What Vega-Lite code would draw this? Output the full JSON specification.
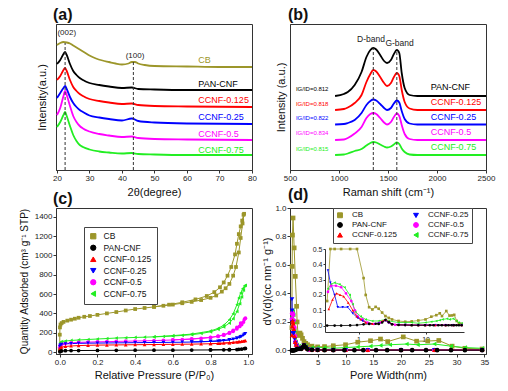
{
"$schema":"https://vega.github.io/schema/vega-lite/v6.json",
"background":"white",
"padding":{"left":18,"top":6,"right":8,"bottom":4},
"config":{
 "font":"Liberation Sans",
 "view":{"stroke":"#333","strokeWidth":1},
 "axis":{"grid":false,"labelFontSize":8,"titleFontSize":11,"titleFontWeight":"normal","domainColor":"#333","tickColor":"#333","labelColor":"#222","titleColor":"#111","tickSize":3,"labelPadding":1,"labelFlush":false,"labelOverlap":false},
 "legend":{"symbolSize":28,"rowPadding":1,"symbolStrokeWidth":1},
 "title":{"fontSize":16,"fontWeight":"bold","anchor":"start","offset":1,"color":"#111","frame":"group"}
},
"columns":2,
"spacing":38,
"bounds":"flush",
"resolve":{"scale":{"color":"independent","shape":"independent"},"legend":{"color":"independent","shape":"independent"}},
"datasets":{
"xrd":[
{"s":"CB","t":20,"v":125},{"s":"CB","t":21,"v":127},{"s":"CB","t":22,"v":128},{"s":"CB","t":23,"v":127.5},{"s":"CB","t":24,"v":126.5},{"s":"CB","t":25,"v":124.5},{"s":"CB","t":26,"v":122.5},{"s":"CB","t":27,"v":120.5},{"s":"CB","t":28,"v":118.5},{"s":"CB","t":29,"v":116.5},{"s":"CB","t":30,"v":114.5},{"s":"CB","t":32,"v":111.5},{"s":"CB","t":34,"v":109.5},{"s":"CB","t":36,"v":108},{"s":"CB","t":38,"v":106.5},{"s":"CB","t":40,"v":105.5},{"s":"CB","t":42,"v":106.5},{"s":"CB","t":43,"v":108},{"s":"CB","t":44,"v":108},{"s":"CB","t":45,"v":106.5},{"s":"CB","t":47,"v":105},{"s":"CB","t":50,"v":104},{"s":"CB","t":60,"v":103.5},{"s":"CB","t":70,"v":103},{"s":"CB","t":80,"v":103},
{"s":"PAN-CNF","t":20,"v":106},{"s":"PAN-CNF","t":21,"v":110},{"s":"PAN-CNF","t":22,"v":116},{"s":"PAN-CNF","t":22.5,"v":118},{"s":"PAN-CNF","t":23,"v":115},{"s":"PAN-CNF","t":24,"v":106},{"s":"PAN-CNF","t":25,"v":99},{"s":"PAN-CNF","t":26,"v":95},{"s":"PAN-CNF","t":27,"v":92},{"s":"PAN-CNF","t":28,"v":90},{"s":"PAN-CNF","t":30,"v":87},{"s":"PAN-CNF","t":33,"v":85},{"s":"PAN-CNF","t":36,"v":83.5},{"s":"PAN-CNF","t":40,"v":82},{"s":"PAN-CNF","t":43,"v":82.5},{"s":"PAN-CNF","t":45,"v":81},{"s":"PAN-CNF","t":50,"v":80.5},{"s":"PAN-CNF","t":60,"v":80},{"s":"PAN-CNF","t":80,"v":80},
{"s":"CCNF-0.125","t":20,"v":90},{"s":"CCNF-0.125","t":21,"v":94},{"s":"CCNF-0.125","t":22,"v":100},{"s":"CCNF-0.125","t":22.5,"v":102},{"s":"CCNF-0.125","t":23,"v":99},{"s":"CCNF-0.125","t":24,"v":90},{"s":"CCNF-0.125","t":25,"v":83},{"s":"CCNF-0.125","t":26,"v":79},{"s":"CCNF-0.125","t":27,"v":76},{"s":"CCNF-0.125","t":28,"v":74},{"s":"CCNF-0.125","t":30,"v":71},{"s":"CCNF-0.125","t":33,"v":69},{"s":"CCNF-0.125","t":36,"v":67.5},{"s":"CCNF-0.125","t":40,"v":66},{"s":"CCNF-0.125","t":43,"v":66.5},{"s":"CCNF-0.125","t":45,"v":65},{"s":"CCNF-0.125","t":50,"v":64},{"s":"CCNF-0.125","t":60,"v":63.5},{"s":"CCNF-0.125","t":80,"v":63},
{"s":"CCNF-0.25","t":20,"v":72},{"s":"CCNF-0.25","t":21,"v":77},{"s":"CCNF-0.25","t":22,"v":82},{"s":"CCNF-0.25","t":22.5,"v":84},{"s":"CCNF-0.25","t":23,"v":81},{"s":"CCNF-0.25","t":24,"v":73},{"s":"CCNF-0.25","t":25,"v":67},{"s":"CCNF-0.25","t":26,"v":63},{"s":"CCNF-0.25","t":27,"v":60},{"s":"CCNF-0.25","t":28,"v":58},{"s":"CCNF-0.25","t":30,"v":54.5},{"s":"CCNF-0.25","t":33,"v":52.5},{"s":"CCNF-0.25","t":36,"v":51},{"s":"CCNF-0.25","t":40,"v":49.5},{"s":"CCNF-0.25","t":43,"v":51.5},{"s":"CCNF-0.25","t":45,"v":49},{"s":"CCNF-0.25","t":50,"v":47.5},{"s":"CCNF-0.25","t":60,"v":46.5},{"s":"CCNF-0.25","t":80,"v":46},
{"s":"CCNF-0.5","t":20,"v":55},{"s":"CCNF-0.5","t":21,"v":62},{"s":"CCNF-0.5","t":22,"v":74},{"s":"CCNF-0.5","t":22.5,"v":79},{"s":"CCNF-0.5","t":23,"v":75},{"s":"CCNF-0.5","t":24,"v":64},{"s":"CCNF-0.5","t":25,"v":54},{"s":"CCNF-0.5","t":26,"v":48},{"s":"CCNF-0.5","t":27,"v":44},{"s":"CCNF-0.5","t":28,"v":41.5},{"s":"CCNF-0.5","t":30,"v":38.5},{"s":"CCNF-0.5","t":33,"v":36},{"s":"CCNF-0.5","t":36,"v":34.5},{"s":"CCNF-0.5","t":40,"v":33},{"s":"CCNF-0.5","t":43,"v":33.5},{"s":"CCNF-0.5","t":45,"v":32},{"s":"CCNF-0.5","t":50,"v":31},{"s":"CCNF-0.5","t":60,"v":30.5},{"s":"CCNF-0.5","t":80,"v":30},
{"s":"CCNF-0.75","t":20,"v":43},{"s":"CCNF-0.75","t":21,"v":48},{"s":"CCNF-0.75","t":22,"v":55},{"s":"CCNF-0.75","t":22.5,"v":58},{"s":"CCNF-0.75","t":23,"v":54},{"s":"CCNF-0.75","t":24,"v":44},{"s":"CCNF-0.75","t":25,"v":35},{"s":"CCNF-0.75","t":26,"v":29},{"s":"CCNF-0.75","t":27,"v":25},{"s":"CCNF-0.75","t":28,"v":23},{"s":"CCNF-0.75","t":30,"v":20.5},{"s":"CCNF-0.75","t":33,"v":18.5},{"s":"CCNF-0.75","t":36,"v":17.5},{"s":"CCNF-0.75","t":40,"v":16.5},{"s":"CCNF-0.75","t":43,"v":17},{"s":"CCNF-0.75","t":45,"v":16},{"s":"CCNF-0.75","t":50,"v":15.5},{"s":"CCNF-0.75","t":60,"v":15},{"s":"CCNF-0.75","t":80,"v":15}
],
"raman":[
{"s":"PAN-CNF","r":960,"v":74},{"s":"PAN-CNF","r":1050,"v":76},{"s":"PAN-CNF","r":1090,"v":78},{"s":"PAN-CNF","r":1160,"v":85},{"s":"PAN-CNF","r":1230,"v":98},{"s":"PAN-CNF","r":1280,"v":113},{"s":"PAN-CNF","r":1320,"v":120},{"s":"PAN-CNF","r":1350,"v":122},{"s":"PAN-CNF","r":1380,"v":120.5},{"s":"PAN-CNF","r":1420,"v":115},{"s":"PAN-CNF","r":1460,"v":109},{"s":"PAN-CNF","r":1490,"v":107},{"s":"PAN-CNF","r":1530,"v":110},{"s":"PAN-CNF","r":1560,"v":116},{"s":"PAN-CNF","r":1590,"v":120},{"s":"PAN-CNF","r":1615,"v":117},{"s":"PAN-CNF","r":1640,"v":97},{"s":"PAN-CNF","r":1670,"v":82},{"s":"PAN-CNF","r":1720,"v":75},{"s":"PAN-CNF","r":1800,"v":74},{"s":"PAN-CNF","r":2500,"v":74},
{"s":"CCNF-0.125","r":960,"v":60},{"s":"CCNF-0.125","r":1050,"v":61},{"s":"CCNF-0.125","r":1090,"v":62.5},{"s":"CCNF-0.125","r":1160,"v":67},{"s":"CCNF-0.125","r":1230,"v":75},{"s":"CCNF-0.125","r":1280,"v":88},{"s":"CCNF-0.125","r":1320,"v":96},{"s":"CCNF-0.125","r":1350,"v":100},{"s":"CCNF-0.125","r":1380,"v":98.5},{"s":"CCNF-0.125","r":1420,"v":93},{"s":"CCNF-0.125","r":1460,"v":87},{"s":"CCNF-0.125","r":1490,"v":84},{"s":"CCNF-0.125","r":1530,"v":87},{"s":"CCNF-0.125","r":1560,"v":93},{"s":"CCNF-0.125","r":1590,"v":97},{"s":"CCNF-0.125","r":1615,"v":94},{"s":"CCNF-0.125","r":1640,"v":80},{"s":"CCNF-0.125","r":1670,"v":68},{"s":"CCNF-0.125","r":1720,"v":61.5},{"s":"CCNF-0.125","r":1800,"v":60},{"s":"CCNF-0.125","r":2500,"v":60},
{"s":"CCNF-0.25","r":960,"v":45.5},{"s":"CCNF-0.25","r":1050,"v":46},{"s":"CCNF-0.25","r":1090,"v":47},{"s":"CCNF-0.25","r":1160,"v":50},{"s":"CCNF-0.25","r":1230,"v":57},{"s":"CCNF-0.25","r":1280,"v":65},{"s":"CCNF-0.25","r":1320,"v":69},{"s":"CCNF-0.25","r":1350,"v":70.5},{"s":"CCNF-0.25","r":1380,"v":69.5},{"s":"CCNF-0.25","r":1420,"v":66},{"s":"CCNF-0.25","r":1460,"v":62},{"s":"CCNF-0.25","r":1490,"v":60},{"s":"CCNF-0.25","r":1530,"v":62},{"s":"CCNF-0.25","r":1560,"v":66.5},{"s":"CCNF-0.25","r":1590,"v":69.5},{"s":"CCNF-0.25","r":1615,"v":67.5},{"s":"CCNF-0.25","r":1640,"v":59},{"s":"CCNF-0.25","r":1670,"v":51},{"s":"CCNF-0.25","r":1720,"v":46.5},{"s":"CCNF-0.25","r":1800,"v":45.5},{"s":"CCNF-0.25","r":2500,"v":45.5},
{"s":"CCNF-0.5","r":960,"v":30},{"s":"CCNF-0.5","r":1050,"v":30.5},{"s":"CCNF-0.5","r":1090,"v":32},{"s":"CCNF-0.5","r":1160,"v":36.5},{"s":"CCNF-0.5","r":1230,"v":43},{"s":"CCNF-0.5","r":1280,"v":52},{"s":"CCNF-0.5","r":1320,"v":56},{"s":"CCNF-0.5","r":1350,"v":57},{"s":"CCNF-0.5","r":1380,"v":56},{"s":"CCNF-0.5","r":1420,"v":52},{"s":"CCNF-0.5","r":1460,"v":47.5},{"s":"CCNF-0.5","r":1490,"v":45.5},{"s":"CCNF-0.5","r":1530,"v":48},{"s":"CCNF-0.5","r":1560,"v":53},{"s":"CCNF-0.5","r":1590,"v":56.5},{"s":"CCNF-0.5","r":1615,"v":54},{"s":"CCNF-0.5","r":1640,"v":45},{"s":"CCNF-0.5","r":1670,"v":36},{"s":"CCNF-0.5","r":1720,"v":31},{"s":"CCNF-0.5","r":1800,"v":30},{"s":"CCNF-0.5","r":2500,"v":30},
{"s":"CCNF-0.75","r":960,"v":15},{"s":"CCNF-0.75","r":1050,"v":15.5},{"s":"CCNF-0.75","r":1090,"v":16.5},{"s":"CCNF-0.75","r":1160,"v":19},{"s":"CCNF-0.75","r":1230,"v":21},{"s":"CCNF-0.75","r":1280,"v":24.5},{"s":"CCNF-0.75","r":1320,"v":27},{"s":"CCNF-0.75","r":1350,"v":28},{"s":"CCNF-0.75","r":1380,"v":27.5},{"s":"CCNF-0.75","r":1420,"v":25.5},{"s":"CCNF-0.75","r":1460,"v":23.5},{"s":"CCNF-0.75","r":1490,"v":22.5},{"s":"CCNF-0.75","r":1530,"v":23.5},{"s":"CCNF-0.75","r":1560,"v":25.5},{"s":"CCNF-0.75","r":1590,"v":27.5},{"s":"CCNF-0.75","r":1615,"v":26},{"s":"CCNF-0.75","r":1640,"v":21.5},{"s":"CCNF-0.75","r":1670,"v":18},{"s":"CCNF-0.75","r":1720,"v":15.5},{"s":"CCNF-0.75","r":1800,"v":15},{"s":"CCNF-0.75","r":2500,"v":15}
],
"bet":[
{"s":"CB","b":"a","p":0.00005,"q":30},{"s":"CB","b":"a","p":0.0002,"q":180},{"s":"CB","b":"a","p":0.001,"q":255},{"s":"CB","b":"a","p":0.004,"q":285},{"s":"CB","b":"a","p":0.01,"q":300},{"s":"CB","b":"a","p":0.02,"q":312},{"s":"CB","b":"a","p":0.04,"q":325},{"s":"CB","b":"a","p":0.06,"q":335},{"s":"CB","b":"a","p":0.08,"q":345},{"s":"CB","b":"a","p":0.1,"q":355},{"s":"CB","b":"a","p":0.13,"q":365},{"s":"CB","b":"a","p":0.16,"q":373},{"s":"CB","b":"a","p":0.2,"q":385},{"s":"CB","b":"a","p":0.25,"q":400},{"s":"CB","b":"a","p":0.3,"q":414},{"s":"CB","b":"a","p":0.35,"q":430},{"s":"CB","b":"a","p":0.4,"q":445},{"s":"CB","b":"a","p":0.45,"q":456},{"s":"CB","b":"a","p":0.5,"q":467},{"s":"CB","b":"a","p":0.55,"q":479},{"s":"CB","b":"a","p":0.6,"q":491},{"s":"CB","b":"a","p":0.65,"q":505},{"s":"CB","b":"a","p":0.7,"q":519},{"s":"CB","b":"a","p":0.75,"q":538},{"s":"CB","b":"a","p":0.8,"q":561},{"s":"CB","b":"a","p":0.83,"q":585},{"s":"CB","b":"a","p":0.86,"q":625},{"s":"CB","b":"a","p":0.88,"q":660},{"s":"CB","b":"a","p":0.9,"q":705},{"s":"CB","b":"a","p":0.92,"q":790},{"s":"CB","b":"a","p":0.935,"q":880},{"s":"CB","b":"a","p":0.95,"q":1030},{"s":"CB","b":"a","p":0.96,"q":1180},{"s":"CB","b":"a","p":0.97,"q":1330},{"s":"CB","b":"a","p":0.978,"q":1430},
{"s":"CB","b":"d","p":0.975,"q":1420},{"s":"CB","b":"d","p":0.968,"q":1360},{"s":"CB","b":"d","p":0.96,"q":1300},{"s":"CB","b":"d","p":0.95,"q":1220},{"s":"CB","b":"d","p":0.94,"q":1120},{"s":"CB","b":"d","p":0.93,"q":1010},{"s":"CB","b":"d","p":0.91,"q":880},{"s":"CB","b":"d","p":0.89,"q":790},{"s":"CB","b":"d","p":0.87,"q":720},{"s":"CB","b":"d","p":0.85,"q":670},{"s":"CB","b":"d","p":0.82,"q":620},{"s":"CB","b":"d","p":0.78,"q":580},{"s":"CB","b":"d","p":0.72,"q":545},{"s":"CB","b":"d","p":0.65,"q":515},{"s":"CB","b":"d","p":0.58,"q":490},{"s":"CB","b":"d","p":0.5,"q":469},
{"s":"CCNF-0.75","b":"a","p":0.0005,"q":70},{"s":"CCNF-0.75","b":"a","p":0.003,"q":100},{"s":"CCNF-0.75","b":"a","p":0.01,"q":108},{"s":"CCNF-0.75","b":"a","p":0.03,"q":114},{"s":"CCNF-0.75","b":"a","p":0.06,"q":120},{"s":"CCNF-0.75","b":"a","p":0.1,"q":125},{"s":"CCNF-0.75","b":"a","p":0.15,"q":130},{"s":"CCNF-0.75","b":"a","p":0.2,"q":135},{"s":"CCNF-0.75","b":"a","p":0.25,"q":140},{"s":"CCNF-0.75","b":"a","p":0.3,"q":145},{"s":"CCNF-0.75","b":"a","p":0.35,"q":148},{"s":"CCNF-0.75","b":"a","p":0.4,"q":151},{"s":"CCNF-0.75","b":"a","p":0.45,"q":154},{"s":"CCNF-0.75","b":"a","p":0.5,"q":157},{"s":"CCNF-0.75","b":"a","p":0.55,"q":161},{"s":"CCNF-0.75","b":"a","p":0.6,"q":166},{"s":"CCNF-0.75","b":"a","p":0.65,"q":172},{"s":"CCNF-0.75","b":"a","p":0.7,"q":180},{"s":"CCNF-0.75","b":"a","p":0.75,"q":192},{"s":"CCNF-0.75","b":"a","p":0.8,"q":210},{"s":"CCNF-0.75","b":"a","p":0.84,"q":235},{"s":"CCNF-0.75","b":"a","p":0.87,"q":260},{"s":"CCNF-0.75","b":"a","p":0.9,"q":300},{"s":"CCNF-0.75","b":"a","p":0.92,"q":345},{"s":"CCNF-0.75","b":"a","p":0.94,"q":420},{"s":"CCNF-0.75","b":"a","p":0.955,"q":500},{"s":"CCNF-0.75","b":"a","p":0.965,"q":570},{"s":"CCNF-0.75","b":"a","p":0.975,"q":640},{"s":"CCNF-0.75","b":"a","p":0.985,"q":690},
{"s":"CCNF-0.75","b":"d","p":0.98,"q":685},{"s":"CCNF-0.75","b":"d","p":0.97,"q":655},{"s":"CCNF-0.75","b":"d","p":0.96,"q":610},{"s":"CCNF-0.75","b":"d","p":0.95,"q":560},{"s":"CCNF-0.75","b":"d","p":0.94,"q":490},{"s":"CCNF-0.75","b":"d","p":0.92,"q":395},{"s":"CCNF-0.75","b":"d","p":0.9,"q":335},{"s":"CCNF-0.75","b":"d","p":0.87,"q":278},{"s":"CCNF-0.75","b":"d","p":0.84,"q":245},{"s":"CCNF-0.75","b":"d","p":0.8,"q":218},{"s":"CCNF-0.75","b":"d","p":0.7,"q":186},{"s":"CCNF-0.75","b":"d","p":0.6,"q":170},{"s":"CCNF-0.75","b":"d","p":0.5,"q":158},
{"s":"CCNF-0.5","b":"a","p":0.0005,"q":50},{"s":"CCNF-0.5","b":"a","p":0.003,"q":70},{"s":"CCNF-0.5","b":"a","p":0.01,"q":80},{"s":"CCNF-0.5","b":"a","p":0.03,"q":88},{"s":"CCNF-0.5","b":"a","p":0.06,"q":95},{"s":"CCNF-0.5","b":"a","p":0.1,"q":100},{"s":"CCNF-0.5","b":"a","p":0.15,"q":103},{"s":"CCNF-0.5","b":"a","p":0.2,"q":106},{"s":"CCNF-0.5","b":"a","p":0.25,"q":108},{"s":"CCNF-0.5","b":"a","p":0.3,"q":110},{"s":"CCNF-0.5","b":"a","p":0.35,"q":112},{"s":"CCNF-0.5","b":"a","p":0.4,"q":114},{"s":"CCNF-0.5","b":"a","p":0.45,"q":116},{"s":"CCNF-0.5","b":"a","p":0.5,"q":119},{"s":"CCNF-0.5","b":"a","p":0.55,"q":122},{"s":"CCNF-0.5","b":"a","p":0.6,"q":125},{"s":"CCNF-0.5","b":"a","p":0.65,"q":129},{"s":"CCNF-0.5","b":"a","p":0.7,"q":134},{"s":"CCNF-0.5","b":"a","p":0.75,"q":141},{"s":"CCNF-0.5","b":"a","p":0.8,"q":150},{"s":"CCNF-0.5","b":"a","p":0.84,"q":162},{"s":"CCNF-0.5","b":"a","p":0.87,"q":175},{"s":"CCNF-0.5","b":"a","p":0.9,"q":195},{"s":"CCNF-0.5","b":"a","p":0.92,"q":215},{"s":"CCNF-0.5","b":"a","p":0.94,"q":240},{"s":"CCNF-0.5","b":"a","p":0.955,"q":265},{"s":"CCNF-0.5","b":"a","p":0.965,"q":285},{"s":"CCNF-0.5","b":"a","p":0.975,"q":310},{"s":"CCNF-0.5","b":"a","p":0.985,"q":350},
{"s":"CCNF-0.5","b":"d","p":0.98,"q":340},{"s":"CCNF-0.5","b":"d","p":0.96,"q":300},{"s":"CCNF-0.5","b":"d","p":0.94,"q":255},{"s":"CCNF-0.5","b":"d","p":0.92,"q":225},{"s":"CCNF-0.5","b":"d","p":0.9,"q":200},{"s":"CCNF-0.5","b":"d","p":0.87,"q":180},{"s":"CCNF-0.5","b":"d","p":0.84,"q":165},{"s":"CCNF-0.5","b":"d","p":0.8,"q":153},{"s":"CCNF-0.5","b":"d","p":0.7,"q":136},{"s":"CCNF-0.5","b":"d","p":0.6,"q":126},
{"s":"CCNF-0.25","b":"a","p":0.0005,"q":60},{"s":"CCNF-0.25","b":"a","p":0.003,"q":75},{"s":"CCNF-0.25","b":"a","p":0.01,"q":80},{"s":"CCNF-0.25","b":"a","p":0.03,"q":85},{"s":"CCNF-0.25","b":"a","p":0.06,"q":88},{"s":"CCNF-0.25","b":"a","p":0.1,"q":90},{"s":"CCNF-0.25","b":"a","p":0.15,"q":92},{"s":"CCNF-0.25","b":"a","p":0.2,"q":93},{"s":"CCNF-0.25","b":"a","p":0.25,"q":94},{"s":"CCNF-0.25","b":"a","p":0.3,"q":95},{"s":"CCNF-0.25","b":"a","p":0.35,"q":96},{"s":"CCNF-0.25","b":"a","p":0.4,"q":97},{"s":"CCNF-0.25","b":"a","p":0.45,"q":98},{"s":"CCNF-0.25","b":"a","p":0.5,"q":99},{"s":"CCNF-0.25","b":"a","p":0.55,"q":100},{"s":"CCNF-0.25","b":"a","p":0.6,"q":101},{"s":"CCNF-0.25","b":"a","p":0.65,"q":102},{"s":"CCNF-0.25","b":"a","p":0.7,"q":104},{"s":"CCNF-0.25","b":"a","p":0.75,"q":106},{"s":"CCNF-0.25","b":"a","p":0.8,"q":110},{"s":"CCNF-0.25","b":"a","p":0.84,"q":114},{"s":"CCNF-0.25","b":"a","p":0.87,"q":119},{"s":"CCNF-0.25","b":"a","p":0.9,"q":126},{"s":"CCNF-0.25","b":"a","p":0.92,"q":133},{"s":"CCNF-0.25","b":"a","p":0.94,"q":143},{"s":"CCNF-0.25","b":"a","p":0.955,"q":152},{"s":"CCNF-0.25","b":"a","p":0.965,"q":162},{"s":"CCNF-0.25","b":"a","p":0.975,"q":175},{"s":"CCNF-0.25","b":"a","p":0.985,"q":190},
{"s":"CCNF-0.25","b":"d","p":0.98,"q":185},{"s":"CCNF-0.25","b":"d","p":0.96,"q":160},{"s":"CCNF-0.25","b":"d","p":0.94,"q":145},{"s":"CCNF-0.25","b":"d","p":0.9,"q":128},{"s":"CCNF-0.25","b":"d","p":0.85,"q":116},{"s":"CCNF-0.25","b":"d","p":0.8,"q":111},{"s":"CCNF-0.25","b":"d","p":0.7,"q":105},
{"s":"CCNF-0.125","b":"a","p":0.0005,"q":30},{"s":"CCNF-0.125","b":"a","p":0.003,"q":45},{"s":"CCNF-0.125","b":"a","p":0.01,"q":52},{"s":"CCNF-0.125","b":"a","p":0.03,"q":58},{"s":"CCNF-0.125","b":"a","p":0.06,"q":63},{"s":"CCNF-0.125","b":"a","p":0.1,"q":67},{"s":"CCNF-0.125","b":"a","p":0.15,"q":70},{"s":"CCNF-0.125","b":"a","p":0.2,"q":72},{"s":"CCNF-0.125","b":"a","p":0.25,"q":73},{"s":"CCNF-0.125","b":"a","p":0.3,"q":74},{"s":"CCNF-0.125","b":"a","p":0.35,"q":75},{"s":"CCNF-0.125","b":"a","p":0.4,"q":76},{"s":"CCNF-0.125","b":"a","p":0.45,"q":77},{"s":"CCNF-0.125","b":"a","p":0.5,"q":78},{"s":"CCNF-0.125","b":"a","p":0.55,"q":79},{"s":"CCNF-0.125","b":"a","p":0.6,"q":80},{"s":"CCNF-0.125","b":"a","p":0.65,"q":81},{"s":"CCNF-0.125","b":"a","p":0.7,"q":82},{"s":"CCNF-0.125","b":"a","p":0.75,"q":84},{"s":"CCNF-0.125","b":"a","p":0.8,"q":86},{"s":"CCNF-0.125","b":"a","p":0.84,"q":89},{"s":"CCNF-0.125","b":"a","p":0.87,"q":92},{"s":"CCNF-0.125","b":"a","p":0.9,"q":96},{"s":"CCNF-0.125","b":"a","p":0.92,"q":100},{"s":"CCNF-0.125","b":"a","p":0.94,"q":104},{"s":"CCNF-0.125","b":"a","p":0.955,"q":108},{"s":"CCNF-0.125","b":"a","p":0.965,"q":111},{"s":"CCNF-0.125","b":"a","p":0.975,"q":114},{"s":"CCNF-0.125","b":"a","p":0.985,"q":118},
{"s":"CCNF-0.125","b":"d","p":0.98,"q":117},{"s":"CCNF-0.125","b":"d","p":0.95,"q":107},{"s":"CCNF-0.125","b":"d","p":0.9,"q":97},{"s":"CCNF-0.125","b":"d","p":0.85,"q":90},{"s":"CCNF-0.125","b":"d","p":0.8,"q":87},
{"s":"PAN-CNF","b":"a","p":0.0005,"q":2},{"s":"PAN-CNF","b":"a","p":0.003,"q":8},{"s":"PAN-CNF","b":"a","p":0.01,"q":12},{"s":"PAN-CNF","b":"a","p":0.03,"q":14},{"s":"PAN-CNF","b":"a","p":0.06,"q":15},{"s":"PAN-CNF","b":"a","p":0.1,"q":16},{"s":"PAN-CNF","b":"a","p":0.2,"q":17},{"s":"PAN-CNF","b":"a","p":0.3,"q":18},{"s":"PAN-CNF","b":"a","p":0.4,"q":19},{"s":"PAN-CNF","b":"a","p":0.5,"q":20},{"s":"PAN-CNF","b":"a","p":0.6,"q":20},{"s":"PAN-CNF","b":"a","p":0.7,"q":21},{"s":"PAN-CNF","b":"a","p":0.8,"q":22},{"s":"PAN-CNF","b":"a","p":0.87,"q":23},{"s":"PAN-CNF","b":"a","p":0.9,"q":24},{"s":"PAN-CNF","b":"a","p":0.94,"q":26},{"s":"PAN-CNF","b":"a","p":0.965,"q":30},{"s":"PAN-CNF","b":"a","p":0.985,"q":38},
{"s":"PAN-CNF","b":"d","p":0.98,"q":36},{"s":"PAN-CNF","b":"d","p":0.95,"q":28},{"s":"PAN-CNF","b":"d","p":0.9,"q":25},{"s":"PAN-CNF","b":"d","p":0.8,"q":23}
],
"psd":[
{"s":"CB","w":0.34,"d":0.16},{"s":"CB","w":0.38,"d":0.59},{"s":"CB","w":0.44,"d":0.81},{"s":"CB","w":0.55,"d":0.93},{"s":"CB","w":0.75,"d":0.72},{"s":"CB","w":0.95,"d":0.52},{"s":"CB","w":1.19,"d":0.31},{"s":"CB","w":1.28,"d":0.2},{"s":"CB","w":1.44,"d":0.12},{"s":"CB","w":1.61,"d":0.105},{"s":"CB","w":1.8,"d":0.122},{"s":"CB","w":2.0,"d":0.11},{"s":"CB","w":2.25,"d":0.085},{"s":"CB","w":2.52,"d":0.062},{"s":"CB","w":2.83,"d":0.05},{"s":"CB","w":3.16,"d":0.04},{"s":"CB","w":3.96,"d":0.03},{"s":"CB","w":4.97,"d":0.025},{"s":"CB","w":6.22,"d":0.027},{"s":"CB","w":7.8,"d":0.033},{"s":"CB","w":10,"d":0.04},{"s":"CB","w":12.2,"d":0.058},{"s":"CB","w":14.5,"d":0.068},{"s":"CB","w":16.3,"d":0.08},{"s":"CB","w":17.6,"d":0.062},{"s":"CB","w":20.4,"d":0.095},{"s":"CB","w":22.8,"d":0.065},{"s":"CB","w":24.8,"d":0.066},{"s":"CB","w":26.8,"d":0.07},{"s":"CB","w":29.2,"d":0.03},{"s":"CB","w":31.5,"d":0.015},{"s":"CB","w":34.6,"d":0.01},
{"s":"CCNF-0.75","w":0.35,"d":0.24},{"s":"CCNF-0.75","w":0.39,"d":0.27},{"s":"CCNF-0.75","w":0.44,"d":0.28},{"s":"CCNF-0.75","w":0.52,"d":0.27},{"s":"CCNF-0.75","w":0.62,"d":0.25},{"s":"CCNF-0.75","w":0.74,"d":0.2},{"s":"CCNF-0.75","w":0.82,"d":0.14},{"s":"CCNF-0.75","w":0.9,"d":0.09},{"s":"CCNF-0.75","w":1.08,"d":0.06},{"s":"CCNF-0.75","w":1.28,"d":0.04},{"s":"CCNF-0.75","w":1.61,"d":0.03},{"s":"CCNF-0.75","w":2.0,"d":0.03},{"s":"CCNF-0.75","w":2.52,"d":0.04},{"s":"CCNF-0.75","w":2.83,"d":0.03},{"s":"CCNF-0.75","w":3.96,"d":0.02},{"s":"CCNF-0.75","w":4.97,"d":0.02},{"s":"CCNF-0.75","w":6.22,"d":0.02},{"s":"CCNF-0.75","w":7.8,"d":0.015},{"s":"CCNF-0.75","w":10,"d":0.02},{"s":"CCNF-0.75","w":12.2,"d":0.025},{"s":"CCNF-0.75","w":14.5,"d":0.03},{"s":"CCNF-0.75","w":16.3,"d":0.035},{"s":"CCNF-0.75","w":18,"d":0.04},{"s":"CCNF-0.75","w":21,"d":0.045},{"s":"CCNF-0.75","w":23,"d":0.04},{"s":"CCNF-0.75","w":26,"d":0.045},{"s":"CCNF-0.75","w":29,"d":0.03},{"s":"CCNF-0.75","w":31.5,"d":0.02},{"s":"CCNF-0.75","w":34.6,"d":0.015},
{"s":"CCNF-0.5","w":0.35,"d":0.22},{"s":"CCNF-0.5","w":0.39,"d":0.26},{"s":"CCNF-0.5","w":0.46,"d":0.26},{"s":"CCNF-0.5","w":0.55,"d":0.25},{"s":"CCNF-0.5","w":0.65,"d":0.21},{"s":"CCNF-0.5","w":0.78,"d":0.16},{"s":"CCNF-0.5","w":0.88,"d":0.1},{"s":"CCNF-0.5","w":0.97,"d":0.06},{"s":"CCNF-0.5","w":1.15,"d":0.04},{"s":"CCNF-0.5","w":1.36,"d":0.02},{"s":"CCNF-0.5","w":1.7,"d":0.01},{"s":"CCNF-0.5","w":2.1,"d":0.02},{"s":"CCNF-0.5","w":2.52,"d":0.035},{"s":"CCNF-0.5","w":2.83,"d":0.02},{"s":"CCNF-0.5","w":3.5,"d":0.005},{"s":"CCNF-0.5","w":4.97,"d":0.004},{"s":"CCNF-0.5","w":7.8,"d":0.003},{"s":"CCNF-0.5","w":10,"d":0.003},{"s":"CCNF-0.5","w":14,"d":0.003},{"s":"CCNF-0.5","w":20,"d":0.003},{"s":"CCNF-0.5","w":26,"d":0.003},{"s":"CCNF-0.5","w":34.6,"d":0.003},
{"s":"CCNF-0.25","w":0.35,"d":0.36},{"s":"CCNF-0.25","w":0.38,"d":0.28},{"s":"CCNF-0.25","w":0.44,"d":0.2},{"s":"CCNF-0.25","w":0.49,"d":0.12},{"s":"CCNF-0.25","w":0.58,"d":0.12},{"s":"CCNF-0.25","w":0.69,"d":0.12},{"s":"CCNF-0.25","w":0.82,"d":0.08},{"s":"CCNF-0.25","w":0.97,"d":0.05},{"s":"CCNF-0.25","w":1.15,"d":0.03},{"s":"CCNF-0.25","w":1.44,"d":0.01},{"s":"CCNF-0.25","w":2.0,"d":0.015},{"s":"CCNF-0.25","w":2.52,"d":0.035},{"s":"CCNF-0.25","w":2.83,"d":0.02},{"s":"CCNF-0.25","w":3.16,"d":0.008},{"s":"CCNF-0.25","w":3.96,"d":0.005},{"s":"CCNF-0.25","w":4.97,"d":0.004},{"s":"CCNF-0.25","w":7.8,"d":0.003},{"s":"CCNF-0.25","w":10,"d":0.003},{"s":"CCNF-0.25","w":14,"d":0.003},{"s":"CCNF-0.25","w":20,"d":0.003},{"s":"CCNF-0.25","w":26,"d":0.003},{"s":"CCNF-0.25","w":34.6,"d":0.003},
{"s":"CCNF-0.125","w":0.36,"d":0.107},{"s":"CCNF-0.125","w":0.41,"d":0.17},{"s":"CCNF-0.125","w":0.47,"d":0.21},{"s":"CCNF-0.125","w":0.53,"d":0.2},{"s":"CCNF-0.125","w":0.6,"d":0.19},{"s":"CCNF-0.125","w":0.7,"d":0.15},{"s":"CCNF-0.125","w":0.82,"d":0.1},{"s":"CCNF-0.125","w":0.94,"d":0.06},{"s":"CCNF-0.125","w":1.08,"d":0.04},{"s":"CCNF-0.125","w":1.28,"d":0.02},{"s":"CCNF-0.125","w":1.61,"d":0.012},{"s":"CCNF-0.125","w":2.0,"d":0.014},{"s":"CCNF-0.125","w":2.25,"d":0.028},{"s":"CCNF-0.125","w":2.52,"d":0.04},{"s":"CCNF-0.125","w":2.83,"d":0.025},{"s":"CCNF-0.125","w":3.16,"d":0.01},{"s":"CCNF-0.125","w":3.96,"d":0.005},{"s":"CCNF-0.125","w":4.97,"d":0.004},{"s":"CCNF-0.125","w":6.22,"d":0.003},{"s":"CCNF-0.125","w":7.8,"d":0.003},{"s":"CCNF-0.125","w":10,"d":0.003},{"s":"CCNF-0.125","w":14,"d":0.003},{"s":"CCNF-0.125","w":20,"d":0.003},{"s":"CCNF-0.125","w":26,"d":0.003},{"s":"CCNF-0.125","w":34.6,"d":0.003},
{"s":"PAN-CNF","w":0.34,"d":0},{"s":"PAN-CNF","w":0.44,"d":0},{"s":"PAN-CNF","w":0.55,"d":0},{"s":"PAN-CNF","w":0.75,"d":0.001},{"s":"PAN-CNF","w":0.95,"d":0.003},{"s":"PAN-CNF","w":1.19,"d":0.008},{"s":"PAN-CNF","w":1.44,"d":0.011},{"s":"PAN-CNF","w":1.8,"d":0.012},{"s":"PAN-CNF","w":2.0,"d":0.01},{"s":"PAN-CNF","w":2.25,"d":0.02},{"s":"PAN-CNF","w":2.52,"d":0.036},{"s":"PAN-CNF","w":2.83,"d":0.022},{"s":"PAN-CNF","w":3.16,"d":0.008},{"s":"PAN-CNF","w":3.96,"d":0.004},{"s":"PAN-CNF","w":4.97,"d":0.003},{"s":"PAN-CNF","w":6.22,"d":0.002},{"s":"PAN-CNF","w":7.8,"d":0.002},{"s":"PAN-CNF","w":9.8,"d":0.002},{"s":"PAN-CNF","w":11.6,"d":0.002},{"s":"PAN-CNF","w":13.2,"d":0.002},{"s":"PAN-CNF","w":15.5,"d":0.002},{"s":"PAN-CNF","w":17.5,"d":0.002},{"s":"PAN-CNF","w":20,"d":0.002},{"s":"PAN-CNF","w":22,"d":0.002},{"s":"PAN-CNF","w":24.5,"d":0.002},{"s":"PAN-CNF","w":26.5,"d":0.002},{"s":"PAN-CNF","w":29,"d":0.002},{"s":"PAN-CNF","w":31.5,"d":0.002},{"s":"PAN-CNF","w":34.6,"d":0.002}
]
},
"concat":[
{
"width":196,"height":146,
"title":{"text":"(a)","dx":-3},
"layer":[
 {"data":{"name":"xrd"},"mark":{"type":"line","strokeWidth":1.8,"interpolate":"monotone"},
  "encoding":{
   "x":{"field":"t","type":"quantitative","scale":{"domain":[19.7,80],"nice":false},"axis":{"values":[20,30,40,50,60,70,80],"tickCount":20,"format":"d","title":"2θ(degree)","titlePadding":4}},
   "y":{"field":"v","type":"quantitative","scale":{"domain":[0,146],"nice":false},"axis":{"labels":false,"ticks":false,"title":"Intensity(a.u.)","titlePadding":9}},
   "color":{"field":"s","type":"nominal","scale":{"domain":["CB","PAN-CNF","CCNF-0.125","CCNF-0.25","CCNF-0.5","CCNF-0.75"],"range":["#9c962a","#000000","#ff0000","#0000ff","#ff00ff","#22ee22"]},"legend":null}}},
 {"data":{"values":[{"t":22.5,"lo":0,"hi":127},{"t":43.5,"lo":0,"hi":108}]},"mark":{"type":"rule","strokeDash":[3,2],"color":"#333","strokeWidth":1},
  "encoding":{"x":{"field":"t","type":"quantitative"},"y":{"field":"lo","type":"quantitative"},"y2":{"field":"hi"}}},
 {"data":{"values":[{"t":23,"v":137,"txt":"(002)"},{"t":44,"v":114,"txt":"(100)"}]},"mark":{"type":"text","fontSize":8,"color":"#222"},
  "encoding":{"x":{"field":"t","type":"quantitative"},"y":{"field":"v","type":"quantitative"},"text":{"field":"txt"}}},
 {"data":{"values":[{"s":"CB","t":63.5,"v":110},{"s":"PAN-CNF","t":63.5,"v":86},{"s":"CCNF-0.125","t":63.5,"v":70},{"s":"CCNF-0.25","t":63.5,"v":53},{"s":"CCNF-0.5","t":63.5,"v":36},{"s":"CCNF-0.75","t":63.5,"v":20}]},
  "mark":{"type":"text","fontSize":9,"align":"left"},
  "encoding":{"x":{"field":"t","type":"quantitative"},"y":{"field":"v","type":"quantitative"},"text":{"field":"s"},"color":{"field":"s","type":"nominal","legend":null}}}
]
},
{
"width":196,"height":146,
"title":{"text":"(b)","dx":-2},
"layer":[
 {"data":{"name":"raman"},"mark":{"type":"line","strokeWidth":1.8,"interpolate":"monotone"},
  "encoding":{
   "x":{"field":"r","type":"quantitative","scale":{"domain":[500,2500],"nice":false},"axis":{"values":[500,1000,1500,2000,2500],"tickCount":20,"format":"d","title":"Raman shift (cm⁻¹)","titlePadding":4}},
   "y":{"field":"v","type":"quantitative","scale":{"domain":[0,146],"nice":false},"axis":{"labels":false,"ticks":false,"title":"Intensity (a.u.)","titlePadding":4}},
   "color":{"field":"s","type":"nominal","scale":{"domain":["PAN-CNF","CCNF-0.125","CCNF-0.25","CCNF-0.5","CCNF-0.75"],"range":["#000000","#ff0000","#0000ff","#ff00ff","#22ee22"]},"legend":null}}},
 {"data":{"values":[{"r":1350,"lo":0,"hi":122},{"r":1590,"lo":0,"hi":120}]},"mark":{"type":"rule","strokeDash":[3,2],"color":"#333","strokeWidth":1},
  "encoding":{"x":{"field":"r","type":"quantitative"},"y":{"field":"lo","type":"quantitative"},"y2":{"field":"hi"}}},
 {"data":{"values":[{"r":1326,"v":131,"txt":"D-band"},{"r":1618,"v":127,"txt":"G-band"}]},"mark":{"type":"text","fontSize":8.5,"color":"#222"},
  "encoding":{"x":{"field":"r","type":"quantitative"},"y":{"field":"v","type":"quantitative"},"text":{"field":"txt"}}},
 {"data":{"values":[{"s":"PAN-CNF","r":1935,"v":83},{"s":"CCNF-0.125","r":1935,"v":68},{"s":"CCNF-0.25","r":1935,"v":53},{"s":"CCNF-0.5","r":1935,"v":38},{"s":"CCNF-0.75","r":1935,"v":23}]},
  "mark":{"type":"text","fontSize":9,"align":"left"},
  "encoding":{"x":{"field":"r","type":"quantitative"},"y":{"field":"v","type":"quantitative"},"text":{"field":"s"},"color":{"field":"s","type":"nominal","legend":null}}},
 {"data":{"values":[{"s":"PAN-CNF","r":560,"v":81,"txt":"IG/ID=0.812"},{"s":"CCNF-0.125","r":560,"v":66,"txt":"IG/ID=0.818"},{"s":"CCNF-0.25","r":560,"v":52,"txt":"IG/ID=0.822"},{"s":"CCNF-0.5","r":560,"v":37,"txt":"IG/ID=0.834"},{"s":"CCNF-0.75","r":560,"v":21,"txt":"IG/ID=0.815"}]},
  "mark":{"type":"text","fontSize":6,"align":"left"},
  "encoding":{"x":{"field":"r","type":"quantitative"},"y":{"field":"v","type":"quantitative"},"text":{"field":"txt"},"color":{"field":"s","type":"nominal","legend":null}}}
]
},
{
"width":196,"height":146,
"title":{"text":"(c)","dx":-3},
"layer":[
 {"data":{"name":"bet"},"mark":{"type":"line","strokeWidth":1},
  "encoding":{
   "x":{"field":"p","type":"quantitative","scale":{"domain":[-0.02,1.02],"nice":false},"axis":{"values":[0,0.2,0.4,0.6,0.8,1.0],"tickCount":20,"format":".1f","title":"Relative Pressure (P/P₀)","titlePadding":3}},
   "y":{"field":"q","type":"quantitative","scale":{"domain":[-20,1490],"nice":false},"axis":{"values":[0,200,400,600,800,1000,1200,1400],"tickCount":20,"format":"d","title":"Quantity Adsorbed (cm³ g⁻¹ STP)","titleFontSize":10,"titlePadding":5}},
   "color":{"field":"s","type":"nominal","scale":{"domain":["CB","PAN-CNF","CCNF-0.125","CCNF-0.25","CCNF-0.5","CCNF-0.75"],"range":["#9c962a","#000000","#ff0000","#0000ff","#ff00ff","#22ee22"]}},
   "detail":{"field":"b"}}},
 {"data":{"name":"bet"},"mark":{"type":"point","filled":true,"size":14,"opacity":1},
  "encoding":{
   "x":{"field":"p","type":"quantitative"},
   "y":{"field":"q","type":"quantitative"},
   "color":{"field":"s","type":"nominal","legend":{"orient":"none","legendX":28,"legendY":19,"title":null,"labelFontSize":8.5,"labelColor":"#111","symbolSize":28,"rowPadding":1.5,"strokeColor":"#444","padding":5,"fillColor":"white","labelOffset":6}},
   "shape":{"field":"s","type":"nominal","scale":{"domain":["CB","PAN-CNF","CCNF-0.125","CCNF-0.25","CCNF-0.5","CCNF-0.75"],"range":["square","circle","triangle-up","triangle-down","circle","triangle-left"]},"legend":{"orient":"none","legendX":28,"legendY":19,"title":null,"labelFontSize":8.5,"labelColor":"#111","symbolSize":28,"rowPadding":1.5,"strokeColor":"#444","padding":5,"fillColor":"white","labelOffset":6}}}}
]
},
{
"width":196,"height":146,
"title":{"text":"(d)","dx":-2},
"resolve":{"scale":{"x":"independent","y":"independent"},"axis":{"x":"independent","y":"independent"}},
"layer":[
 {"layer":[
  {"data":{"name":"psd"},"mark":{"type":"line","strokeWidth":1},
   "encoding":{
    "x":{"field":"w","type":"quantitative","scale":{"domain":[0,35.3],"nice":false},"axis":{"values":[5,10,15,20,25,30,35],"tickCount":20,"format":"d","title":"Pore Width(nm)","titlePadding":3}},
    "y":{"field":"d","type":"quantitative","scale":{"domain":[-0.025,1],"nice":false},"axis":{"values":[0,0.2,0.4,0.6,0.8,1.0],"tickCount":20,"format":".1f","title":"dV(d)(cc nm⁻¹ g⁻¹)","titlePadding":2}},
    "color":{"field":"s","type":"nominal","scale":{"domain":["CB","PAN-CNF","CCNF-0.125","CCNF-0.25","CCNF-0.5","CCNF-0.75"],"range":["#9c962a","#000000","#ff0000","#0000ff","#ff00ff","#22ee22"]}}}},
  {"data":{"name":"psd"},"mark":{"type":"point","filled":true,"size":22,"opacity":1},
   "encoding":{
    "x":{"field":"w","type":"quantitative"},
    "y":{"field":"d","type":"quantitative"},
    "color":{"field":"s","type":"nominal","legend":{"orient":"none","legendX":43,"legendY":0,"title":null,"columns":2,"labelFontSize":8,"labelColor":"#111","symbolSize":24,"rowPadding":0,"columnPadding":14,"strokeColor":"#444","padding":3,"fillColor":"white","labelOffset":8}},
    "shape":{"field":"s","type":"nominal","scale":{"domain":["CB","PAN-CNF","CCNF-0.125","CCNF-0.25","CCNF-0.5","CCNF-0.75"],"range":["square","circle","triangle-up","triangle-down","circle","triangle-left"]},"legend":{"orient":"none","legendX":43,"legendY":0,"title":null,"columns":2,"labelFontSize":8,"labelColor":"#111","symbolSize":24,"rowPadding":0,"columnPadding":14,"strokeColor":"#444","padding":3,"fillColor":"white","labelOffset":8}}}}
 ]},
 {"layer":[
  {"mark":{"type":"rect","fill":"white","stroke":"#444","strokeWidth":1},
   "encoding":{
    "x":{"datum":0.316,"type":"quantitative","scale":{"type":"log","domain":[0.316,37.5],"range":[35,174],"nice":false},"axis":{"orient":"bottom","offset":-22,"values":[1,10],"tickCount":20,"format":"d","title":null,"labelFontSize":7,"tickSize":2}},
    "x2":{"datum":37.5},
    "y":{"datum":-0.042,"type":"quantitative","scale":{"domain":[-0.042,0.5],"range":[124,41],"nice":false,"clamp":true},"axis":{"orient":"left","offset":-35,"values":[0,0.1,0.2,0.3,0.4,0.5],"tickCount":20,"format":".1f","title":null,"labelFontSize":7,"tickSize":2}},
    "y2":{"datum":0.5}}},
  {"data":{"name":"psd"},"mark":{"type":"line","strokeWidth":0.8},
   "encoding":{"x":{"field":"w","type":"quantitative"},"y":{"field":"d","type":"quantitative"},"color":{"field":"s","type":"nominal"}}},
  {"data":{"name":"psd"},"mark":{"type":"point","filled":true,"size":7,"opacity":1},
   "encoding":{"x":{"field":"w","type":"quantitative"},"y":{"field":"d","type":"quantitative"},"color":{"field":"s","type":"nominal"},"shape":{"field":"s","type":"nominal"}}}
 ]}
]
}
]
}
